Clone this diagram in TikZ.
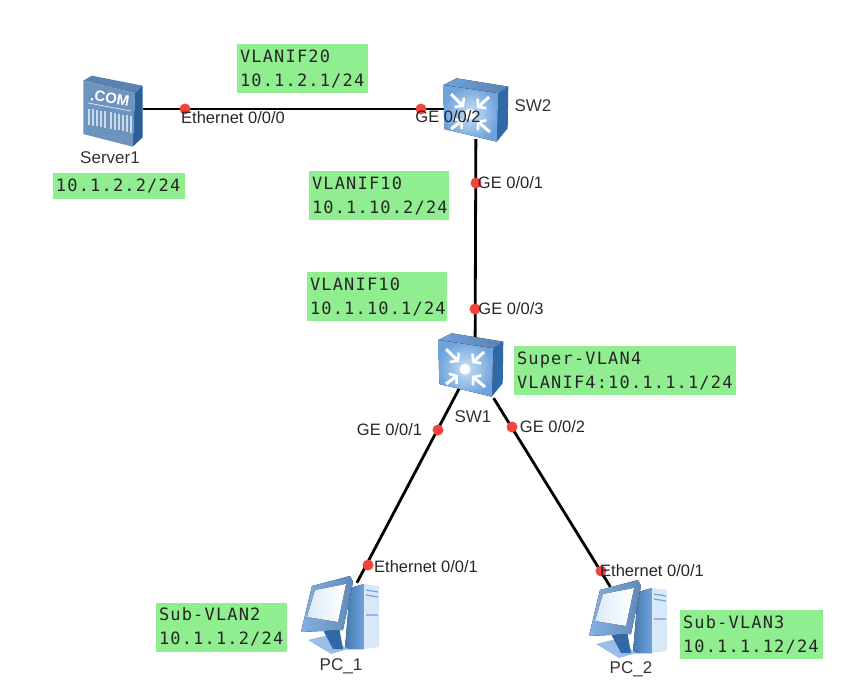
\documentclass[tikz,border=0pt]{standalone}
\usepackage{fontspec}
\setmainfont{Liberation Sans}
\newfontfamily\monofont[LetterSpace=6.9]{DejaVu Sans Mono}
\usepackage{tikz}
\usetikzlibrary{positioning, arrows.meta}

\definecolor{netgreen}{HTML}{90EE90}
\definecolor{portred}{HTML}{F4433A}
\definecolor{iconlight}{HTML}{A9CBEE}
\definecolor{iconmid}{HTML}{6FA3DC}
\definecolor{icondark}{HTML}{2F69A8}
\definecolor{serverblue}{HTML}{6D93BF}

\begin{document}
\begin{tikzpicture}[
        x=1pt, y=1pt,
        device/.style={minimum width=60pt, minimum height=60pt, inner sep=0pt},
        devname/.style={inner sep=0pt, text height=11pt, text depth=0pt, font=\fontsize{17}{18}\selectfont, text=black!80},
        ifname/.style={inner sep=0pt, text height=11pt, text depth=0pt, font=\fontsize{16.5}{18}\selectfont, text=black!85},
        port/.style={circle, fill=portred, minimum size=11pt, inner sep=0pt},
        netbox/.style={fill=netgreen, inner sep=3pt, minimum height=49pt, align=left, font=\monofont\fontsize{17}{24}\selectfont, text=black!85},
        link/.style={line width=2.8pt, black},
        switchicon/.pic={
            \begin{scope}[y=-1pt]
                \fill[left color=iconmid, right color=iconmid!80!black] (-36.7,-28) -- (-23.3,-34.7) -- (28.3,-26.3) -- (18.3,-19.7) -- cycle;
                \fill[icondark] (18.3,-19.7) -- (28.3,-26.3) -- (27.7,15.3) -- (16.7,28.7) -- cycle;
                \fill[inner color=iconlight!60!white, outer color=iconmid] (-36.7,-28) -- (18.3,-19.7) -- (16.7,28.7) -- (-35.7,16) -- cycle;
                \fill[white] (-10,1.3) circle (5.5);
                \foreach \ax/\ay/\bx/\by in {-29/-19/-16/-6, 9/-16/-3/-5, -29/16/-17/7, 10/19/-3/8}
                    \draw[white, line width=3pt, -{Straight Barb[length=5pt, width=13pt, line width=2.6pt]}] (\ax,\ay) -- (\bx,\by);
            \end{scope}
        },
        pcicon/.pic={
            \begin{scope}[y=-1pt]
                % tower
                \fill[left color=icondark!90, right color=iconmid] (9,-25) -- (23,-29) -- (23,36) -- (4,36) -- cycle;
                \fill[iconlight!45!white] (23,-29) -- (38,-27) -- (38,34) -- (23,36) -- cycle;
                \draw[iconmid, line width=1.2pt] (25,-23) -- (37,-21) (25,-18) -- (37,-16) (25,2) -- (37,2);
                % stand
                \fill[iconmid!70!white] (-33,27) -- (-13,22) -- (7,36) -- (-10,41) -- cycle;
                \fill[icondark] (-18,17) -- (-2,14) -- (2,36) -- (-8,36) -- cycle;
                % monitor
                \fill[left color=iconmid!85!white, right color=iconmid!85!black] (-29,-27) -- (9,-37) -- (12,-31) -- (2,17) -- (-40,19) -- cycle;
                \fill[left color=iconlight!40!white, right color=white] (-26,-23) -- (5,-29) -- (-3,9) -- (-34,4) -- cycle;
            \end{scope}
        },
        servericon/.pic={
            \begin{scope}[y=-1pt]
                \fill[iconmid!80!black] (-29.7,-28.3) -- (-21.3,-33.3) -- (29.7,-23.3) -- (22,-15.7) -- cycle;
                \fill[icondark!90!black] (22,-15.7) -- (29.7,-23.3) -- (29.7,28.3) -- (19.7,37.7) -- cycle;
                \fill[serverblue] (-29.7,-28.3) -- (22,-15.7) -- (19.7,37.7) -- (-29.7,25) -- cycle;
                \node[rotate=-9, text=white, inner sep=0pt, font=\fontsize{15}{15}\selectfont\bfseries] at (-3,-11) {.COM};
                \draw[white!75!serverblue, line width=0.8pt] (-25,-6) -- (18,2);
                \foreach \bx in {-24,-20,...,-8, -2,2,...,18}
                    \draw[white!65!serverblue, line width=1.5pt] (\bx,{-0.5+0.18*(\bx+24)}) -- (\bx,{16+0.18*(\bx+24)});
            \end{scope}
        }
    ]
%
    \useasboundingbox (0,0) rectangle (847,-696);
%
    % Devices
    \node[device] (server1) at (113,-109) {};
    \node[device, on grid, right=363pt of server1] (sw2) {};
    \node[device, on grid, below left=259pt and 1pt of sw2] (sw1) {};
    \node[device, on grid, below left=245pt and 134pt of sw1] (pc1) {};
    \node[device, on grid, below right=249pt and 154pt of sw1] (pc2) {};
%
    % Links
    \draw[link] (server1) -- (sw2);
    \draw[link] (sw2) -- (sw1);
    \draw[link] ([xshift=-5pt]sw1.center) -- (pc1);
    \draw[link] (sw1) -- (pc2);
%
    % Icons
    \pic at (server1) {servericon};
    \pic[xshift=4pt, yshift=-4pt] at (sw2) {switchicon};
    \pic at (sw1) {switchicon};
    \pic at (pc1) {pcicon};
    \pic at (pc2) {pcicon};
%
    % Device names
    \node[devname, on grid, below left=49pt and 3pt of server1] (server1name) {Server1};
    \node[devname, on grid, above right=3pt and 57pt of sw2] (sw2name) {SW2};
    \node[devname, on grid, below left=49pt and 2pt of sw1] (sw1name) {SW1};
    \node[devname, on grid, below=52pt of pc1] (pc1name) {PC\_1};
    \node[devname, on grid, below right=51pt and 2pt of pc2] (pc2name) {PC\_2};
%
    % Ports
    \node[port, on grid, right=72pt of server1] (srvport) {};
    \node[port, on grid, left=55pt of sw2] (sw2left) {};
    \node[port, on grid, below=74pt of sw2] (sw2down) {};
    \node[port, on grid, above=59pt of sw1] (sw1up) {};
    \node[port, on grid, below left=62pt and 37pt of sw1] (sw1left) {};
    \node[port, on grid, below right=59pt and 37pt of sw1] (sw1right) {};
    \node[port, on grid, above right=48pt and 27pt of pc1] (pc1port) {};
    \node[port, on grid, above left=46pt and 28pt of pc2] (pc2port) {};
%
    % Port labels
    \node[ifname, on grid, below right=9pt and 48pt of srvport] (srvif) {Ethernet 0/0/0};
    \node[ifname, on grid, below right=8pt and 27pt of sw2left] (sw2leftif) {GE 0/0/2};
    \node[ifname, on grid, right=34.5pt of sw2down] (sw2downif) {GE 0/0/1};
    \node[ifname, on grid, right=36pt of sw1up] (sw1upif) {GE 0/0/3};
    \node[ifname, on grid, left=48.5pt of sw1left] (sw1leftif) {GE 0/0/1};
    \node[ifname, on grid, right=40.5pt of sw1right] (sw1rightif) {GE 0/0/2};
    \node[ifname, on grid, below right=2pt and 58pt of pc1port] (pc1if) {Ethernet 0/0/1};
    \node[ifname, on grid, right=51pt of pc2port] (pc2if) {Ethernet 0/0/1};
%
    % Address boxes
    \node[netbox, text width=125pt, on grid, above left=40.5pt and 173.5pt of sw2] (vlan20box) {VLANIF20\\10.1.2.1/24};
    \node[netbox, text width=126pt, minimum height=26pt, on grid, below right=77pt and 6pt of server1] (srvbox) {10.1.2.2/24};
    \node[netbox, text width=134pt, on grid, below left=86.5pt and 97pt of sw2] (vlan10upbox) {VLANIF10\\10.1.10.2/24};
    \node[netbox, text width=134pt, on grid, above left=71.5pt and 98pt of sw1] (vlan10downbox) {VLANIF10\\10.1.10.1/24};
    \node[netbox, text width=216pt, on grid, below right=2.5pt and 150pt of sw1] (superbox) {Super-VLAN4\\VLANIF4:10.1.1.1/24};
    \node[netbox, text width=125pt, on grid, below left=14pt and 119.5pt of pc1] (sub2box) {Sub-VLAN2\\10.1.1.2/24};
    \node[netbox, text width=137pt, on grid, below right=17.5pt and 122.5pt of pc2] (sub3box) {Sub-VLAN3\\10.1.1.12/24};
%
\end{tikzpicture}
\end{document}
